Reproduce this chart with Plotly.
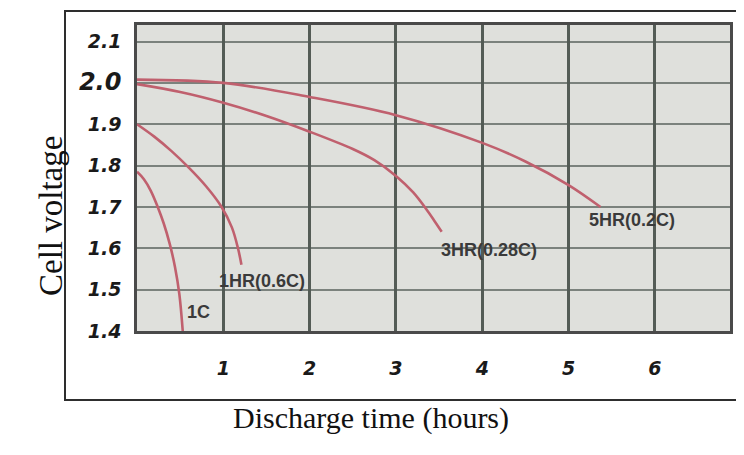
import plotly.graph_objects as go

# ---- data ----
t_1c = [0, 0.08, 0.16, 0.24, 0.31, 0.38, 0.44, 0.49, 0.53]
v_1c = [1.785, 1.767, 1.739, 1.70, 1.66, 1.61, 1.555, 1.49, 1.40]

t_1hr = [0, 0.2, 0.4, 0.6, 0.8, 0.98, 1.1, 1.17, 1.21]
v_1hr = [1.90, 1.87, 1.835, 1.795, 1.75, 1.70, 1.65, 1.60, 1.56]

t_3hr = [0, 0.5, 1, 1.5, 2, 2.5, 2.75, 3.0, 3.2, 3.35, 3.45, 3.53]
v_3hr = [1.997, 1.978, 1.952, 1.92, 1.882, 1.84, 1.813, 1.775, 1.735, 1.695, 1.665, 1.64]

t_5hr = [0, 1, 2, 3, 4, 4.5, 5, 5.37]
v_5hr = [2.008, 2.0, 1.966, 1.922, 1.855, 1.81, 1.753, 1.70]

curve_names = ["1C", "1HR(0.6C)", "3HR(0.28C)", "5HR(0.2C)"]
label_x = [0.707, 1.448, 4.077, 5.734]
label_y = [1.446, 1.522, 1.596, 1.669]

x_ticks = [1, 2, 3, 4, 5, 6]
y_ticks = [1.4, 1.5, 1.6, 1.7, 1.8, 1.9, 2.0, 2.1]
y_tick_text = ["1.4", "1.5", "1.6", "1.7", "1.8", "1.9", "2.0", "2.1"]

# ---- figure (page body has an 8px margin, so everything is shifted by -8) ----
OFF = 8
W, H = 744 - OFF, 455 - OFF
L, R, T, B = 137 - OFF, 730 - OFF, 25 - OFF, 331 - OFF
fig = go.Figure()

curve_color = "#c0606e"
for t, v in [(t_1c, v_1c), (t_1hr, v_1hr), (t_3hr, v_3hr), (t_5hr, v_5hr)]:
    fig.add_trace(go.Scatter(x=t, y=v, mode="lines",
                             line=dict(color=curve_color, width=2.6, shape="spline", smoothing=1.0),
                             showlegend=False, hoverinfo="skip"))

for name, lx, ly in zip(curve_names, label_x, label_y):
    fig.add_annotation(x=lx, y=ly, text="<b>" + name + "</b>", showarrow=False,
                       font=dict(family="Liberation Sans, Arial", size=18, color="#3a3a3a"))

def yt(s):
    if s == "2.0":
        return "<span style='font-size:24px'><b><i>" + s + "</i></b></span>"
    return "<b><i>" + s + "</i></b>"

fig.update_layout(
    width=W, height=H,
    margin=dict(l=L, r=W - R, t=T, b=H - B, pad=0),
    paper_bgcolor="white",
    plot_bgcolor="#dfe0dc",
    xaxis=dict(range=[0, 6.87], tickvals=x_ticks,
               ticktext=["<b><i>%d</i></b>" % v for v in x_ticks],
               showgrid=True, gridcolor="rgba(60,68,62,0.85)", gridwidth=2.5,
               zeroline=False, showline=True, linecolor="#4a4a4a", linewidth=2.5, mirror=True,
               ticks="", ticklabelstandoff=18,
               tickfont=dict(family="DejaVu Sans", size=19, color="#1a1a1a")),
    yaxis=dict(range=[1.4, 2.14], tickvals=y_ticks,
               ticktext=[yt(s) for s in y_tick_text],
               showgrid=True, gridcolor="rgba(80,90,84,0.7)", gridwidth=2,
               zeroline=False, showline=True, linecolor="#4a4a4a", linewidth=2.5, mirror=True,
               ticks="", ticklabelstandoff=9,
               tickfont=dict(family="DejaVu Sans", size=19, color="#1a1a1a")),
)

pw, ph = R - L, B - T
def px(xp):
    return (xp - OFF - L) / pw
def py(yp):
    return (B - (yp - OFF)) / ph

# outer frame
fig.add_shape(type="rect", xref="paper", yref="paper",
              x0=px(65), x1=px(752), y0=py(400), y1=py(11),
              line=dict(color="#2e2e2e", width=2), layer="below")

fig.add_annotation(xref="paper", yref="paper", x=px(31), y=py(216), text="Cell voltage",
                   textangle=-90, showarrow=False,
                   font=dict(family="Liberation Serif", size=33, color="#111"))
fig.add_annotation(xref="paper", yref="paper", x=px(371), y=py(437), text="Discharge time (hours)",
                   showarrow=False,
                   font=dict(family="Liberation Serif", size=30, color="#111"))

fig.write_html("out.html")
